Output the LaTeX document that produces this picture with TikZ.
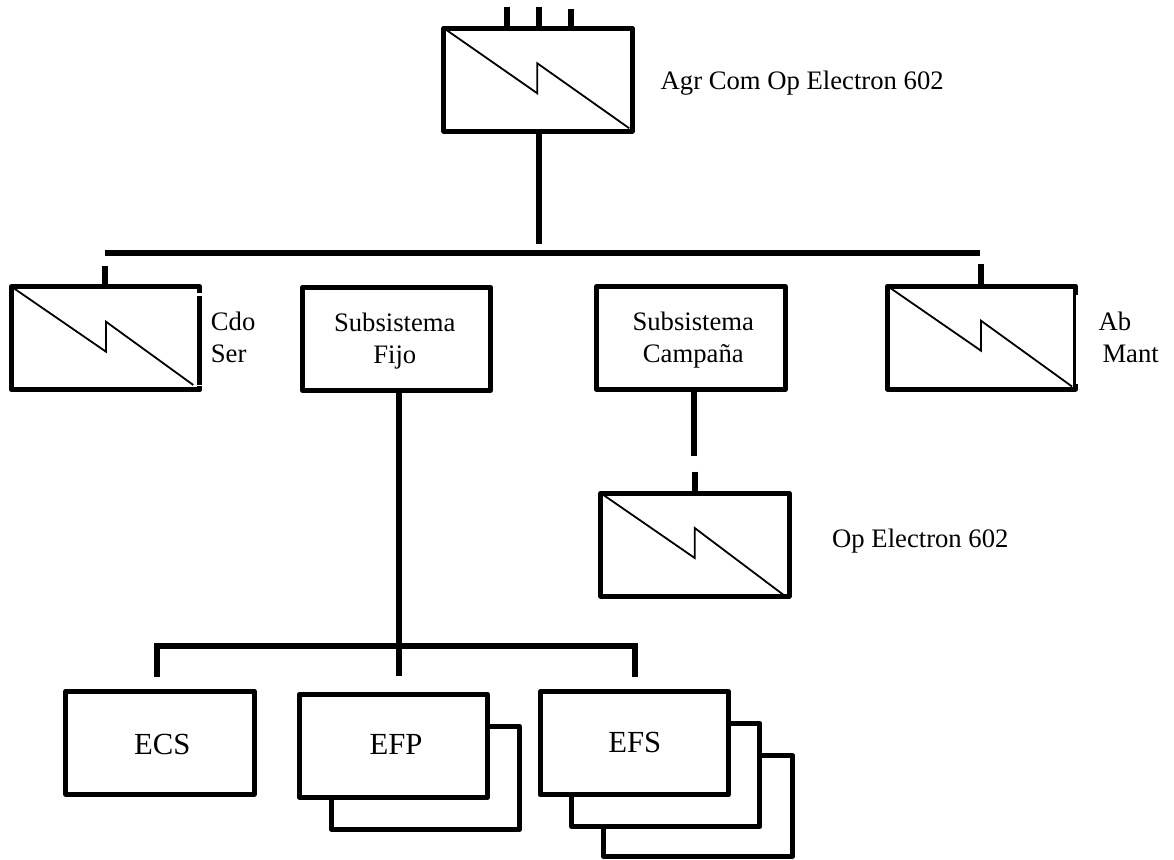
\documentclass[tikz,border=0pt]{standalone}
\usepackage{fontspec}
\setmainfont{Liberation Serif}
\usetikzlibrary{calc}
\tikzset{
  unitbox/.style={draw=black,fill=white,line width=5pt,line join=round,inner sep=0pt,outer sep=0pt,align=center,minimum width=188.3pt,minimum height=103pt,font=\fontsize{26.67}{32}\selectfont},
  bigbox/.style={unitbox,font=\fontsize{30.67}{36}\selectfont},
  link/.style={line width=6pt,line cap=butt,draw=black},
  bolt/.style={line width=1.8pt,draw=black,line join=miter},
  mask/.style={fill=white,draw=none},
  lbl/.style={inner sep=0pt,align=left,font=\fontsize{26.67}{32}\selectfont}
}
% bolt from top-left corner through the step to the lower right end point
\newcommand{\boltin}[4]{\draw[bolt] (#1.north west) -- ($(#1.center)+(#2,#3)$) -- ($(#1.center)+(#2,#3-30)$) -- #4;}
\begin{document}
\begin{tikzpicture}[x=1pt,y=-1pt]
\useasboundingbox (0,0) rectangle (1174,859);
% boxes
\node[unitbox] (top) at (538,79.7) {};
\node[unitbox] (cdo) at (105.8,338.3) {};
\node[unitbox] (fijo) at (396.5,338.7) {\rule{0pt}{22.4pt}\hspace*{-3.4pt}Subsistema\\\hspace*{-3.4pt}Fijo};
\node[unitbox] (camp) at (691,338) {\rule{0pt}{21.8pt}\hspace*{4.6pt}Subsistema\\\hspace*{4.6pt}Campaña};
\node[unitbox] (ab) at (981.5,337.5) {};
\node[unitbox] (op) at (695,544.7) {};
\node[bigbox] (ecs) at (160,742.7) {\hspace*{4.6pt}\raisebox{-11.3pt}[0pt][0pt]{ECS}};
\node[bigbox] (efpb) at (425.5,777.7) {};
\node[bigbox] (efp) at (393.5,745.7) {\hspace*{5pt}\raisebox{-8.3pt}[0pt][0pt]{EFP}};
\node[bigbox,minimum width=189.4pt,minimum height=100.3pt] (efsc) at (698,805.9) {};
\node[bigbox] (efsb) at (665.8,775) {};
\node[bigbox] (efs) at (634.2,743.3) {\hspace*{1pt}\raisebox{-9pt}[0pt][0pt]{EFS}};
% bolts
\boltin{top}{-0.7}{13.6}{(629.3,128.3)}
\boltin{cdo}{0.2}{13.4}{(193.3,385)}
\boltin{ab}{-0.5}{13.2}{(1072,386.5)}
\boltin{op}{-0.3}{13.3}{(785,596)}
% printing flaws on the right edges of two boxes
\fill[mask] (197,292.7) rectangle (203,296);
\fill[mask] (193,385) rectangle (203,386);
\fill[mask] (1076,295) rectangle (1079,384);
% free ends
\coordinate (t1) at (507.3,6.7);
\coordinate (t2) at (539.3,7.3);
\coordinate (t3) at (571.3,9.3);
\coordinate (busdrop) at (538.7,244);
\coordinate (busL) at (105.3,252.7);
\coordinate (busR) at (980,252.7);
\coordinate (cdoup) at (105.3,266);
\coordinate (abup) at (980.7,264);
\coordinate (campA) at (694.3,455.7);
\coordinate (campB) at (694.5,471.7);
\coordinate (fL) at (157.3,646);
\coordinate (fR) at (635,646);
\coordinate (fLd) at (157.3,674.3);
\coordinate (fRd) at (635,674.3);
\coordinate (fCd) at (399,675.7);
% connectors
\draw[link] (t1) -- (t1 |- top.north);
\draw[link] (t2) -- (t2 |- top.north);
\draw[link] (t3) -- (t3 |- top.north);
\draw[link] (busdrop |- top.south) -- (busdrop);
\draw[link] (busL) -- (busR);
\draw[link] (cdoup) -- (cdoup |- cdo.north);
\draw[link] (abup) -- (abup |- ab.north);
\draw[link] (fCd |- fijo.south) -- (fCd);
\draw[link,line cap=rect] (fLd) -- (fL) -- (fR) -- (fRd);
\draw[link] (campA |- camp.south) -- (campA);
\draw[link] (campB) -- (campB |- op.north);
% labels
\node[lbl,anchor=base west] (l1) at (660.5,89.3) {Agr Com Op Electron 602};
\node[lbl,anchor=west] (l2) at (210.7,337) {Cdo\\Ser};
\node[lbl,anchor=west] (l3) at (1098.3,337.8) {Ab\\\hspace*{4pt}Mant};
\node[lbl,anchor=base west] (l4) at (832,547.7) {Op Electron 602};
\end{tikzpicture}
\end{document}
